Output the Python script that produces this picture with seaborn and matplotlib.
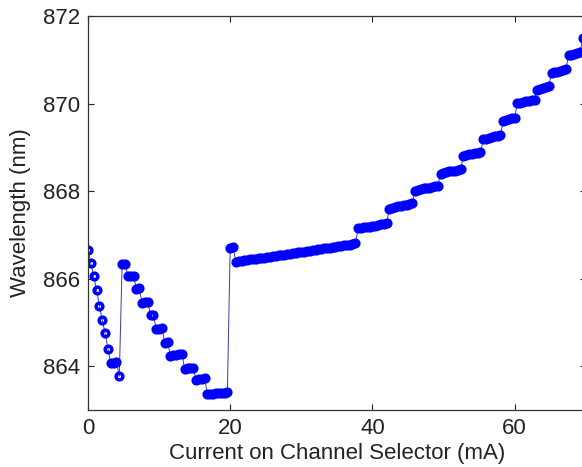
import matplotlib
matplotlib.use("Agg")
import matplotlib.pyplot as plt
import seaborn as sns
import pandas as pd

# ---- data ----
current_ma = [
    0.0, 0.4, 0.8, 1.2, 1.6, 2.0, 2.4, 2.8, 3.2, 3.6, 4.0, 4.4,
    4.8, 5.2, 5.6, 6.0, 6.4, 6.8, 7.2, 7.6, 8.0, 8.4, 8.8, 9.2, 9.6, 10.0,
    10.4, 10.8, 11.2, 11.6, 12.0, 12.4, 12.8, 13.2, 13.6, 14.0, 14.4, 14.8,
    15.2, 15.6, 16.0, 16.4, 16.8, 17.2, 17.6, 18.0, 18.4, 18.8, 19.2, 19.6,
    20.0, 20.4, 20.8, 21.2, 21.6, 22.0, 22.4, 22.8, 23.2, 23.6, 24.0, 24.4,
    24.8, 25.2, 25.6, 26.0, 26.4, 26.8, 27.2, 27.6, 28.0, 28.4, 28.8, 29.2,
    29.6, 30.0, 30.4, 30.8, 31.2, 31.6, 32.0, 32.4, 32.8, 33.2, 33.6, 34.0,
    34.4, 34.8, 35.2, 35.6, 36.0, 36.4, 36.8, 37.2, 37.6, 38.0, 38.4, 38.8,
    39.2, 39.6, 40.0, 40.4, 40.8, 41.2, 41.6, 42.0, 42.4, 42.8, 43.2, 43.6,
    44.0, 44.4, 44.8, 45.2, 45.6, 46.0, 46.4, 46.8, 47.2, 47.6, 48.0, 48.4,
    48.8, 49.2, 49.6, 50.0, 50.4, 50.8, 51.2, 51.6, 52.0, 52.4, 52.8, 53.2,
    53.6, 54.0, 54.4, 54.8, 55.2, 55.6, 56.0, 56.4, 56.8, 57.2, 57.6, 58.0,
    58.4, 58.8, 59.2, 59.6, 60.0, 60.4, 60.8, 61.2, 61.6, 62.0, 62.4, 62.8,
    63.2, 63.6, 64.0, 64.4, 64.8, 65.2, 65.6, 66.0, 66.4, 66.8, 67.2, 67.6,
    68.0, 68.4, 68.8, 69.2, 69.6, 70.0,
]
wavelength_nm = [
    # first mode-hop descent (0 - 4.4 mA)
    866.66, 866.36, 866.07, 865.75, 865.38, 865.06, 864.76, 864.40, 864.07,
    864.08, 864.09, 863.77,
    # second descending staircase (4.8 - 19.6 mA)
    866.33, 866.34, 866.05, 866.06, 866.07, 865.77, 865.78, 865.45, 865.46,
    865.47, 865.16, 865.17, 864.85, 864.86, 864.87, 864.54, 864.55, 864.24,
    864.25, 864.26, 864.27, 864.28, 863.94, 863.95, 863.96, 863.97, 863.69,
    863.70, 863.71, 863.72, 863.36, 863.37, 863.37, 863.38, 863.38, 863.39,
    863.39, 863.40,
    # jump and slow rise (20.0 - 37.6 mA)
    866.71, 866.72, 866.39, 866.40, 866.41, 866.42, 866.43, 866.44, 866.45,
    866.46, 866.47, 866.48, 866.48, 866.49, 866.50, 866.51, 866.52, 866.53,
    866.54, 866.55, 866.56, 866.57, 866.58, 866.59, 866.60, 866.61, 866.62,
    866.63, 866.64, 866.65, 866.66, 866.67, 866.68, 866.69, 866.70, 866.71,
    866.72, 866.73, 866.74, 866.75, 866.76, 866.77, 866.78, 866.79, 866.81,
    # rising staircase (38.0 - 70.0 mA)
    867.15, 867.16, 867.17, 867.18, 867.19, 867.20, 867.21, 867.22, 867.24,
    867.25, 867.27,
    867.60, 867.62, 867.63, 867.65, 867.66, 867.68, 867.69, 867.70, 867.72,
    868.01, 868.03, 868.04, 868.06, 868.07, 868.08, 868.10, 868.11, 868.12,
    868.40, 868.42, 868.43, 868.45, 868.46, 868.47, 868.49, 868.50,
    868.80, 868.82, 868.84, 868.85, 868.87, 868.88, 868.90,
    869.18, 869.20, 869.21, 869.23, 869.25, 869.27, 869.28,
    869.60, 869.62, 869.64, 869.66, 869.68,
    870.01, 870.02, 870.04, 870.05, 870.06, 870.08, 870.09,
    870.32, 870.34, 870.36, 870.38, 870.40,
    870.70, 870.72, 870.73, 870.75, 870.77, 870.78,
    871.10, 871.12, 871.14, 871.16, 871.18,
    871.50, 871.53,
]
x_ticks = [0, 20, 40, 60]
y_ticks = [864, 866, 868, 870, 872]

df = pd.DataFrame({"current": current_ma, "wavelength": wavelength_nm})

sns.set_style("ticks")
plt.rcParams["font.family"] = ["Liberation Sans", "DejaVu Sans"]

fig = plt.figure(figsize=(5.82, 4.67), dpi=100)
ax = fig.add_axes([88 / 582, 57 / 467, 497.7 / 582, 394 / 467])

sns.lineplot(
    data=df, x="current", y="wavelength", ax=ax, estimator=None, sort=False,
    color="#3a3aa8", linewidth=0.7, marker="o", markersize=4.8,
    markerfacecolor="none", markeredgecolor="#0000ff", markeredgewidth=2.5,
)

ax.set_xlim(0, 70)
ax.set_ylim(863, 872)
ax.set_xticks(x_ticks)
ax.set_yticks(y_ticks)
ax.set_xlabel("Current on Channel Selector (mA)", fontsize=16, color="#222222", labelpad=3)
ax.set_ylabel("Wavelength (nm)", fontsize=16, color="#222222", labelpad=8)
ax.tick_params(axis="both", direction="in", length=4.5, width=0.8, labelsize=16,
               top=True, right=True, colors="#222222", pad=6)
for s in ax.spines.values():
    s.set_visible(True)
    s.set_linewidth(0.9)
    s.set_color("#333333")

fig.savefig("out.png", dpi=100)
